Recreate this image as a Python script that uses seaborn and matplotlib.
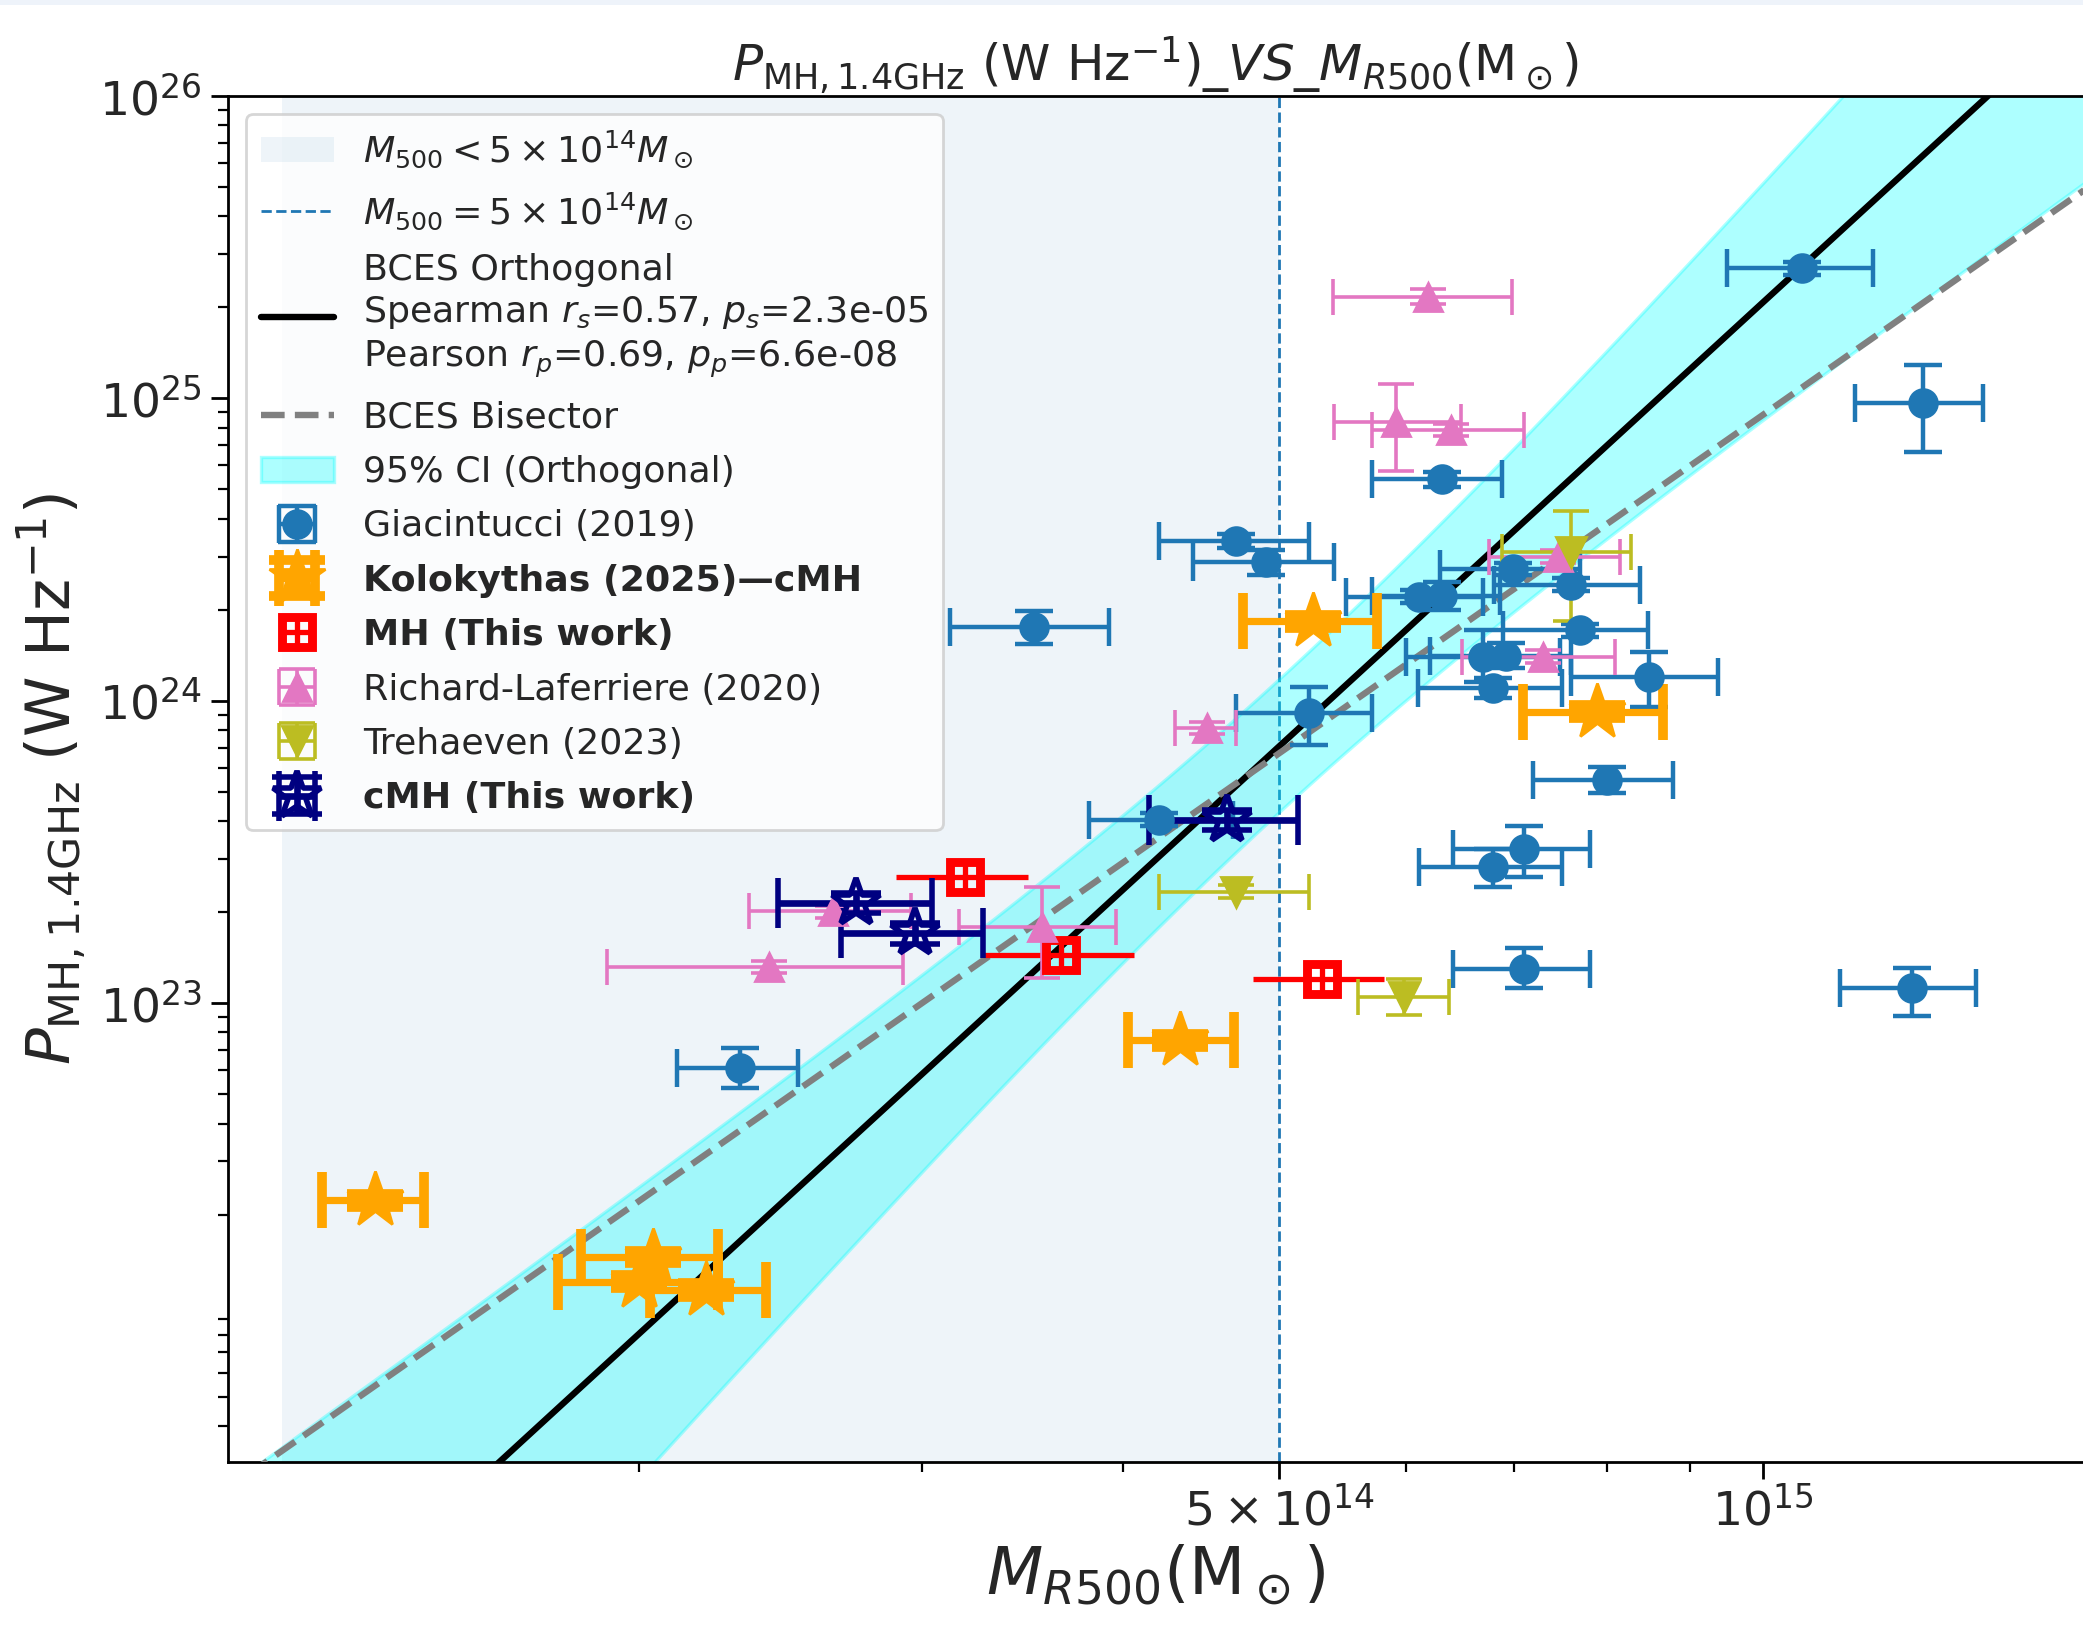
import numpy as np
import pandas as pd
import matplotlib
matplotlib.use("Agg")
import matplotlib.pyplot as plt
import seaborn as sns
from matplotlib.patches import Rectangle
from matplotlib.ticker import LogLocator, NullFormatter

# ---------------- data (M500 in Msun, P1.4GHz in W/Hz) ----------------
# Giacintucci (2019)
gia_m    = [1.057e15, 1.257e15, 6.31e14, 4.70e14, 4.91e14, 3.52e14, 6.99e14, 7.59e14,
            6.11e14, 6.31e14, 7.69e14, 6.70e14, 6.92e14, 8.49e14, 6.79e14, 8.00e14,
            5.22e14, 4.21e14, 7.10e14, 6.79e14, 7.10e14, 1.238e15, 2.31e14]
gia_m_lo = [9.50e14, 1.14e15, 5.71e14, 4.21e14, 4.42e14, 3.12e14, 6.30e14, 6.80e14,
            5.50e14, 5.71e14, 6.89e14, 6.00e14, 6.21e14, 7.59e14, 6.10e14, 7.19e14,
            4.70e14, 3.81e14, 6.41e14, 6.11e14, 6.41e14, 1.117e15, 2.11e14]
gia_m_hi = [1.17e15, 1.37e15, 6.88e14, 5.22e14, 5.41e14, 3.92e14, 7.69e14, 8.38e14,
            6.70e14, 6.86e14, 8.48e14, 7.48e14, 7.59e14, 9.38e14, 7.50e14, 8.79e14,
            5.71e14, 4.68e14, 7.80e14, 7.50e14, 7.80e14, 1.357e15, 2.51e14]
gia_p    = [2.69e25, 9.69e24, 5.40e24, 3.38e24, 2.88e24, 1.75e24, 2.72e24, 2.42e24,
            2.21e24, 2.22e24, 1.71e24, 1.40e24, 1.41e24, 1.20e24, 1.10e24, 5.47e23,
            9.12e23, 4.04e23, 3.24e23, 2.83e23, 1.30e23, 1.12e23, 6.09e22]
gia_p_lo = [2.55e25, 6.65e24, 5.10e24, 3.20e24, 2.60e24, 1.54e24, 2.60e24, 2.30e24,
            2.10e24, 1.99e24, 1.62e24, 1.15e24, 1.28e24, 9.57e23, 1.02e24, 4.94e23,
            7.14e23, 3.85e23, 2.62e23, 2.43e23, 1.12e23, 9.10e22, 5.24e22]
gia_p_hi = [2.83e25, 1.29e25, 5.70e24, 3.55e24, 3.15e24, 1.98e24, 2.85e24, 2.55e24,
            2.32e24, 2.48e24, 1.80e24, 1.71e24, 1.55e24, 1.45e24, 1.19e24, 6.03e23,
            1.11e24, 4.25e23, 3.86e23, 3.23e23, 1.52e23, 1.31e23, 7.10e22]

# Kolokythas (2025) - cMH
kol_m    = [5.25e14, 7.88e14, 4.34e14, 1.37e14, 2.04e14, 2.00e14, 2.20e14]
kol_m_lo = [4.75e14, 7.09e14, 4.03e14, 1.27e14, 1.84e14, 1.78e14, 2.03e14]
kol_m_hi = [5.75e14, 8.67e14, 4.69e14, 1.47e14, 2.24e14, 2.24e14, 2.40e14]
kol_p    = [1.83e24, 9.20e23, 7.55e22, 2.23e22, 1.45e22, 1.20e22, 1.13e22]
kol_p_lo = [1.74e24, 8.74e23, 7.17e22, 2.12e22, 1.38e22, 1.14e22, 1.07e22]
kol_p_hi = [1.92e24, 9.66e23, 7.93e22, 2.34e22, 1.52e22, 1.26e22, 1.19e22]

# MH (This work)
mh_m    = [3.19e14, 3.66e14, 5.32e14]
mh_m_lo = [2.89e14, 3.27e14, 4.82e14]
mh_m_hi = [3.49e14, 4.06e14, 5.81e14]
mh_p    = [2.62e23, 1.44e23, 1.20e23]
mh_p_lo = [2.32e23, 1.28e23, 1.065e23]
mh_p_hi = [2.95e23, 1.62e23, 1.35e23]

# Richard-Laferriere (2020)
ric_m    = [6.19e14, 5.91e14, 6.40e14, 7.45e14, 7.30e14, 4.51e14, 2.64e14, 3.56e14, 2.41e14]
ric_m_lo = [5.40e14, 5.41e14, 5.71e14, 6.75e14, 6.50e14, 4.31e14, 2.34e14, 3.16e14, 1.91e14]
ric_m_hi = [6.98e14, 6.49e14, 7.10e14, 8.15e14, 8.09e14, 4.70e14, 2.95e14, 3.96e14, 2.92e14]
ric_p    = [2.17e25, 8.37e24, 7.86e24, 2.99e24, 1.40e24, 8.12e23, 2.01e23, 1.79e23, 1.32e23]
ric_p_lo = [2.05e25, 5.75e24, 7.50e24, 2.85e24, 1.33e24, 7.75e23, 1.92e23, 1.21e23, 1.26e23]
ric_p_hi = [2.30e25, 1.12e25, 8.25e24, 3.15e24, 1.47e24, 8.50e23, 2.10e23, 2.42e23, 1.38e23]

# Trehaeven (2023)
tre_m    = [7.59e14, 4.70e14, 5.98e14]
tre_m_lo = [6.88e14, 4.21e14, 5.60e14]
tre_m_hi = [8.28e14, 5.22e14, 6.38e14]
tre_p    = [3.11e24, 2.34e23, 1.05e23]
tre_p_lo = [1.83e24, 2.22e23, 9.15e22]
tre_p_hi = [4.23e24, 2.46e23, 1.20e23]

# cMH (This work)
cmh_m    = [2.73e14, 2.97e14, 4.64e14]
cmh_m_lo = [2.44e14, 2.67e14, 4.15e14]
cmh_m_hi = [3.04e14, 3.27e14, 5.14e14]
cmh_p    = [2.14e23, 1.70e23, 4.04e23]
cmh_p_lo = [1.98e23, 1.57e23, 3.74e23]
cmh_p_hi = [2.31e23, 1.84e23, 4.36e23]

# BCES fits in log space: log P = norm + slope * (log M - pivot)
fit_pivot = 14.7
orth_slope, orth_norm = 4.88, 23.854
bis_slope, bis_norm = 3.72, 23.83
ci_sigma_norm, ci_sigma_slope = 0.22, 1.08

mass_split = 5e14
span_low = 1.2e14
y_major = [1e23, 1e24, 1e25, 1e26]

# ---------------- style ----------------
sns.set_style("ticks")
plt.rcParams['font.family'] = ['DejaVu Sans']
plt.rcParams['mathtext.fontset'] = 'dejavusans'

W, H, DPI = 2083, 1625, 200
fig = plt.figure(figsize=(W / DPI, H / DPI), dpi=DPI)
fig.add_artist(Rectangle((0, 1 - 5 / H), 1, 5 / H, transform=fig.transFigure,
                         color='#eef3fa', lw=0))
ax = fig.add_axes([228 / W, 1 - 1461.5 / H, 1 - 228 / W, (1461.5 - 96) / H])
ax.set_xscale('log')
ax.set_yscale('log')

xmin, xmax = 1.110e14, 1.581e15
ymin, ymax = 3.05e21, 1e26

h_span = ax.axvspan(span_low, mass_split, color='#1f77b4', alpha=0.075, lw=0, zorder=0)
h_vl = ax.axvline(mass_split, color='#1f77b4', ls='--', lw=1.0, zorder=1)

logm = np.linspace(np.log10(9e13), np.log10(2e15), 400)
fit_df = pd.DataFrame({
    'M': 10 ** logm,
    'orth': 10 ** (orth_norm + orth_slope * (logm - fit_pivot)),
    'bis': 10 ** (bis_norm + bis_slope * (logm - fit_pivot)),
})
hw = np.sqrt(ci_sigma_norm ** 2 + (ci_sigma_slope * (logm - fit_pivot)) ** 2)
ci_lo = 10 ** (orth_norm + orth_slope * (logm - fit_pivot) - hw)
ci_hi = 10 ** (orth_norm + orth_slope * (logm - fit_pivot) + hw)

h_ci = ax.fill_between(fit_df['M'], ci_lo, ci_hi, color='cyan', alpha=0.32, lw=1.2, zorder=1.5)
sns.lineplot(data=fit_df, x='M', y='orth', color='black', lw=2.3, ax=ax, zorder=3)
sns.lineplot(data=fit_df, x='M', y='bis', color='gray', lw=2.3, ls='--', ax=ax, zorder=3)
h_orth, h_bis = ax.lines[-2], ax.lines[-1]


def eb(m, mlo, mhi, p, plo, phi, **kw):
    m, mlo, mhi = np.array(m), np.array(mlo), np.array(mhi)
    p, plo, phi = np.array(p), np.array(plo), np.array(phi)
    return ax.errorbar(m, p, xerr=[m - mlo, mhi - m], yerr=[p - plo, phi - p],
                       ls='none', zorder=4, **kw)


h_gia = eb(gia_m, gia_m_lo, gia_m_hi, gia_p, gia_p_lo, gia_p_hi,
           fmt='o', color='#1f77b4', ms=10, elinewidth=1.6, capsize=7, capthick=1.6)
h_kol = eb(kol_m, kol_m_lo, kol_m_hi, kol_p, kol_p_lo, kol_p_hi,
           fmt='*', color='orange', ms=21, elinewidth=2.6, capsize=10, capthick=3.5)
h_mh = eb(mh_m, mh_m_lo, mh_m_hi, mh_p, mh_p_lo, mh_p_hi,
          fmt='s', color='red', mfc='none', mec='red', mew=3.2, ms=11,
          elinewidth=1.9, capsize=0)
h_ric = eb(ric_m, ric_m_lo, ric_m_hi, ric_p, ric_p_lo, ric_p_hi,
           fmt='^', color='#e377c2', ms=10, elinewidth=1.3, capsize=6.5, capthick=1.3)
h_tre = eb(tre_m, tre_m_lo, tre_m_hi, tre_p, tre_p_lo, tre_p_hi,
           fmt='v', color='#bcbd22', ms=11, elinewidth=1.3, capsize=6.5, capthick=1.3)
h_cmh = eb(cmh_m, cmh_m_lo, cmh_m_hi, cmh_p, cmh_p_lo, cmh_p_hi,
           fmt='*', color='navy', mfc='none', mec='navy', mew=2.0, ms=18,
           elinewidth=2.4, capsize=9, capthick=2.4)

ax.set_xlim(xmin, xmax)
ax.set_ylim(ymin, ymax)

ax.set_xticks([5e14, 1e15])
ax.set_xticklabels([r'$5\times10^{14}$', r'$10^{15}$'])
ax.xaxis.set_minor_locator(LogLocator(base=10, subs=np.arange(2, 10)))
ax.xaxis.set_minor_formatter(NullFormatter())
ax.set_yticks(y_major)
ax.yaxis.set_minor_locator(LogLocator(base=10, subs=np.arange(2, 10), numticks=30))
ax.yaxis.set_minor_formatter(NullFormatter())
ax.tick_params(axis='both', which='major', labelsize=17, length=6, width=1, color='black')
ax.tick_params(axis='both', which='minor', length=3.5, width=0.8, color='black')
for s in ax.spines.values():
    s.set_color('black')
    s.set_linewidth(1.0)
ax.spines['right'].set_visible(False)

xlabel = r'$M_{R500}(\rm M_\odot)$'
ylabel = r'$P_{\rm MH,1.4GHz}$ (W Hz$^{-1}$)'
ax.set_xlabel(xlabel, fontsize=23.5, labelpad=3)
ax.set_ylabel(ylabel, fontsize=22, labelpad=4)
ax.set_title(r'$P_{\rm MH,1.4GHz}$ (W Hz$^{-1}$)_$VS$_$M_{R500}(\rm M_\odot)$', fontsize=18, pad=5)

handles = [h_span, h_vl, h_orth, h_bis, h_ci, h_gia, h_kol, h_mh, h_ric, h_tre, h_cmh]
labels = [r'$M_{500} < 5 \times 10^{14} M_\odot$',
          r'$M_{500} = 5 \times 10^{14} M_\odot$',
          'BCES Orthogonal\nSpearman $r_s$=0.57, $p_s$=2.3e-05\nPearson $r_p$=0.69, $p_p$=6.6e-08',
          'BCES Bisector',
          '95% CI (Orthogonal)',
          'Giacintucci (2019)',
          'Kolokythas (2025)—cMH',
          'MH (This work)',
          'Richard-Laferriere (2020)',
          'Trehaeven (2023)',
          'cMH (This work)']
leg = ax.legend(handles, labels, loc='upper left', fontsize=13.1, frameon=True,
                framealpha=0.8, edgecolor='#cccccc', fancybox=True, labelspacing=0.56)
leg.set_zorder(10)
bold = {'Kolokythas (2025)—cMH', 'MH (This work)', 'cMH (This work)'}
for t in leg.get_texts():
    if t.get_text() in bold:
        t.set_fontweight('bold')
    if '\n' in t.get_text():
        t.set_linespacing(1.28)

fig.savefig('out.png', dpi=DPI)
